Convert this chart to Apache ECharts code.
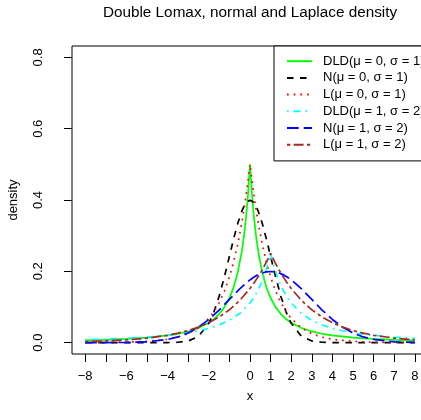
<!DOCTYPE html>
<html>
<head>
<meta charset="utf-8">
<script src="https://cdn.jsdelivr.net/npm/echarts@6/dist/echarts.min.js"></script>
<style>
html,body{margin:0;padding:0;background:#fff;}
#chart{width:421px;height:420px;}
</style>
</head>
<body>
<div id="chart"></div>
<script>
// x grid for the mu = 0 curves
var xs0 = [-8,-7,-6,-5,-4,-3.5,-3,-2.5,-2,-1.75,-1.5,-1.25,-1,-0.8,-0.6,-0.4,-0.3,-0.2,-0.1,0,0.1,0.2,0.3,0.4,0.6,0.8,1,1.25,1.5,1.75,2,2.5,3,3.5,4,5,6,7,8];
var dld0 = [0.0062,0.0078,0.0102,0.0139,0.02,0.0247,0.0313,0.0408,0.0556,0.0661,0.08,0.0988,0.125,0.1543,0.1953,0.2551,0.2959,0.3472,0.4132,0.5,0.4132,0.3472,0.2959,0.2551,0.1953,0.1543,0.125,0.0988,0.08,0.0661,0.0556,0.0408,0.0313,0.0247,0.02,0.0139,0.0102,0.0078,0.0062];
var norm0 = [0,0,0,0,0.0001,0.0009,0.0044,0.0175,0.054,0.0863,0.1295,0.1826,0.242,0.2897,0.3332,0.3683,0.3814,0.391,0.397,0.3989,0.397,0.391,0.3814,0.3683,0.3332,0.2897,0.242,0.1826,0.1295,0.0863,0.054,0.0175,0.0044,0.0009,0.0001,0,0,0,0];
var lap0 = [0.0002,0.0005,0.0012,0.0034,0.0092,0.0151,0.0249,0.041,0.0677,0.0869,0.1116,0.1433,0.1839,0.2247,0.2744,0.3352,0.3704,0.4094,0.4524,0.5,0.4524,0.4094,0.3704,0.3352,0.2744,0.2247,0.1839,0.1433,0.1116,0.0869,0.0677,0.041,0.0249,0.0151,0.0092,0.0034,0.0012,0.0005,0.0002];
// x grid for the mu = 1 curves
var xs1 = [-8,-7,-6,-5,-4,-3.5,-3,-2.5,-2,-1.5,-1,-0.5,0,0.2,0.4,0.6,0.8,1,1.2,1.4,1.6,1.8,2,2.5,3,3.5,4,4.5,5,5.5,6,7,8];
var dld1 = [0.0083,0.01,0.0123,0.0156,0.0204,0.0237,0.0278,0.0331,0.04,0.0494,0.0625,0.0816,0.1111,0.1276,0.1479,0.1736,0.2066,0.25,0.2066,0.1736,0.1479,0.1276,0.1111,0.0816,0.0625,0.0494,0.04,0.0331,0.0278,0.0237,0.0204,0.0156,0.0123];
var norm1 = [0,0.0001,0.0004,0.0022,0.0088,0.0159,0.027,0.0431,0.0648,0.0913,0.121,0.1506,0.176,0.1841,0.1907,0.1955,0.1985,0.1995,0.1985,0.1955,0.1907,0.1841,0.176,0.1506,0.121,0.0913,0.0648,0.0431,0.027,0.0159,0.0088,0.0022,0.0004];
var lap1 = [0.0028,0.0046,0.0075,0.0124,0.0205,0.0264,0.0338,0.0434,0.0558,0.0716,0.092,0.1181,0.1516,0.1676,0.1852,0.2047,0.2262,0.25,0.2262,0.2047,0.1852,0.1676,0.1516,0.1181,0.092,0.0716,0.0558,0.0434,0.0338,0.0264,0.0205,0.0124,0.0075];

var seriesNames = ['DLD(\u03bc = 0, \u03c3 = 1)','N(\u03bc = 0, \u03c3 = 1)','L(\u03bc = 0, \u03c3 = 1)','DLD(\u03bc = 1, \u03c3 = 2)','N(\u03bc = 1, \u03c3 = 2)','L(\u03bc = 1, \u03c3 = 2)'];
var xTickVals = [-8,-7,-6,-5,-4,-3,-2,-1,0,1,2,3,4,5,6,7,8];
var xLabelVals = [-8,-6,-4,-2,0,1,2,3,4,5,6,7,8];
var yTickVals = [0,0.2,0.4,0.6,0.8];
var yTickLabels = ['0.0','0.2','0.4','0.6','0.8'];

function pairs(xs, ys){ return xs.map(function(x,i){ return [x, ys[i]]; }); }

var FONT = '"Liberation Sans", Arial, Helvetica, sans-serif';
var styles = [
  {color:'#00FF00', type:'solid'},
  {color:'#000000', type:[6.5,6.5]},
  {color:'#FF0000', type:[1.7,5]},
  {color:'#00FFFF', type:[1.7,5,6.7,5]},
  {color:'#0000FF', type:[11.7,5]},
  {color:'#A52A2A', type:[3.3,3.3,10,3.3]}
];
var datas = [pairs(xs0,dld0), pairs(xs0,norm0), pairs(xs0,lap0), pairs(xs1,dld1), pairs(xs1,norm1), pairs(xs1,lap1)];

var chart = echarts.init(document.getElementById('chart'), null, {renderer:'canvas'});
chart.setOption({
  backgroundColor:'#ffffff',
  animation:false,
  title:{
    text:'Double Lomax, normal and Laplace density',
    left:250, top:5, textAlign:'center', padding:0,
    textStyle:{fontFamily:FONT, fontSize:15.3, fontWeight:'normal', color:'#000'}
  },
  legend:{
    orient:'vertical', left:274, top:46,
    data:seriesNames,
    itemWidth:25, itemHeight:12, itemGap:3.7,
    padding:[8.7,14,9.7,12],
    borderColor:'#000', borderWidth:1, backgroundColor:'#fff',
    itemStyle:{color:'transparent', borderColor:'transparent', borderWidth:0, opacity:0},
    textStyle:{fontFamily:FONT, fontSize:13, color:'#000', padding:[0,0,0,6]},
    selectedMode:false
  },
  grid:{left:72, top:46, width:356, height:308, outerBoundsMode:'none', show:true, borderColor:'#000', borderWidth:1, backgroundColor:'transparent', containLabel:false},
  xAxis:{
    type:'value', min:-8.64, max:8.64,
    name:'x', nameLocation:'middle', nameGap:36,
    nameTextStyle:{fontFamily:FONT, fontSize:13, color:'#000'},
    axisLine:{show:false, onZero:false},
    axisTick:{show:true, inside:false, length:8, lineStyle:{color:'#000', width:1}, customValues:xTickVals},
    axisLabel:{show:true, margin:16, fontFamily:FONT, fontSize:13, color:'#000', customValues:xLabelVals,
      formatter:function(v){ return v < 0 ? '\u2212' + Math.abs(v) : String(v); }},
    splitLine:{show:false}
  },
  yAxis:{
    type:'value', min:-0.032, max:0.832,
    name:'density', nameLocation:'middle', nameGap:52, nameRotate:90,
    nameTextStyle:{fontFamily:FONT, fontSize:13, color:'#000'},
    axisLine:{show:false, onZero:false},
    axisTick:{show:true, inside:false, length:8, lineStyle:{color:'#000', width:1}, customValues:yTickVals},
    axisLabel:{show:true, rotate:90, margin:27, fontFamily:FONT, fontSize:13, color:'#000', customValues:yTickVals,
      formatter:function(v){ var i = yTickVals.indexOf(v); return i >= 0 ? yTickLabels[i] : ''; }},
    splitLine:{show:false}
  },
  series: seriesNames.map(function(n,i){
    return {
      name:n, type:'line', data:datas[i], symbol:'none', showSymbol:false, smooth:false,
      lineStyle:{color:styles[i].color, width:1.7, type:styles[i].type},
      itemStyle:{color:styles[i].color},
      z:2+i
    };
  })
});
</script>
</body>
</html>
